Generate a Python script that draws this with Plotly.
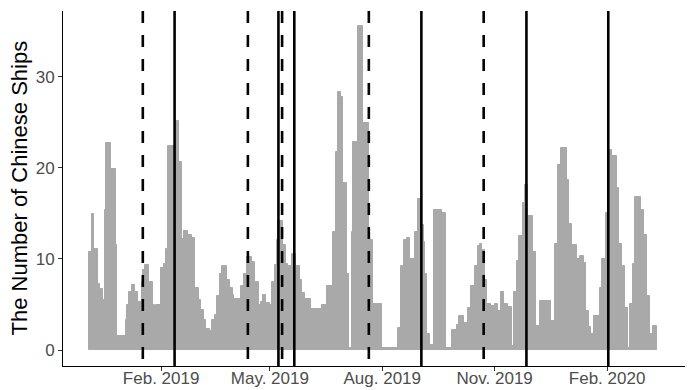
import plotly.graph_objects as go
import pandas as pd

# ---- data ----
base_date = "2018-12-04"
run_start_day = [0, 2, 4, 7, 9, 11, 13, 14, 18, 22,
                 23, 30, 31, 33, 35, 38, 40, 43, 44, 46,
                 49, 52, 54, 55, 59, 61, 63, 65, 70, 74,
                 76, 78, 81, 84, 87, 90, 92, 94, 96, 99,
                 101, 103, 105, 107, 109, 113, 115, 118, 119, 124,
                 127, 129, 133, 136, 139, 141, 142, 145, 148, 150,
                 152, 154, 155, 159, 161, 163, 166, 169, 173, 174,
                 177, 182, 191, 195, 200, 202, 204, 206, 208, 211,
                 213, 215, 216, 220, 224, 229, 232, 240, 253, 255,
                 258, 260, 263, 267, 269, 272, 274, 275, 277, 279,
                 282, 289, 292, 297, 301, 303, 307, 310, 313, 316,
                 318, 320, 322, 324, 326, 329, 332, 335, 337, 340,
                 343, 346, 348, 350, 352, 355, 357, 359, 363, 366,
                 369, 378, 381, 384, 386, 391, 393, 395, 399, 402,
                 405, 407, 409, 411, 413, 418, 420, 423, 425, 428,
                 432, 434, 436, 439, 441, 443, 445, 447, 452, 454,
                 457, 459, 462]
run_end_day = 465
run_values = [10.8, 14.9, 11.1, 7.25, 6.7, 5.5, 15.4, 22.8, 19.9, 11.5,
              1.5, 3.3, 4.9, 6.4, 7.1, 6.4, 5.3, 7.5, 8.8, 9.3,
              7.5, 4.9, 0.2, 4.9, 9.0, 9.5, 11.1, 22.4, 25.2, 20.7,
              12.2, 13.1, 12.6, 12.3, 6.8, 5.5, 4.4, 3.3, 2.3, 2.1,
              3.3, 3.8, 5.9, 8.4, 9.2, 7.7, 6.8, 6.0, 5.6, 7.0,
              8.4, 10.2, 9.7, 7.5, 4.9, 5.3, 6.0, 5.2, 5.0, 7.5,
              9.3, 12.1, 14.2, 11.5, 9.5, 9.2, 10.6, 9.2, 7.7, 6.3,
              5.6, 4.5, 5.0, 7.0, 13.0, 21.8, 28.3, 27.8, 18.3, 8.4,
              0.2, 13.0, 22.9, 35.6, 24.9, 12.1, 5.1, 0.2, 2.4, 9.2,
              12.1, 12.3, 10.0, 13.0, 16.6, 13.7, 11.9, 8.4, 1.8, 0.5,
              15.4, 15.0, 0.2, 2.2, 2.7, 3.7, 3.0, 4.6, 7.0, 9.2,
              11.4, 11.6, 11.0, 7.7, 5.1, 4.8, 5.1, 4.3, 6.4, 5.1,
              4.7, 0.4, 6.4, 9.8, 12.5, 16.1, 18.1, 14.7, 10.8, 2.6,
              5.4, 3.2, 11.6, 20.3, 22.2, 18.7, 13.9, 11.5, 10.0, 10.3,
              9.6, 4.3, 2.5, 1.8, 3.7, 6.8, 10.0, 15.0, 22.0, 21.3,
              17.8, 11.6, 9.2, 4.6, 0.2, 5.1, 9.5, 16.8, 15.4, 12.6,
              5.9, 1.8, 2.6]

dashed_dates = ["2019-01-17", "2019-04-13", "2019-05-11", "2019-07-21", "2019-10-23"]
solid_dates = ["2019-02-12", "2019-05-08", "2019-05-21", "2019-09-02", "2019-11-27", "2020-02-02"]

tick_dates = ["2019-02-01", "2019-05-01", "2019-08-01", "2019-11-01", "2020-02-01"]
tick_labels = ["Feb. 2019", "May. 2019", "Aug. 2019", "Nov. 2019", "Feb. 2020"]
y_ticks = [0, 10, 20, 30]
y_title = "The Number of Chinese Ships"

# ---- build ----
base = pd.Timestamp(base_date)
starts = [(base + pd.Timedelta(days=d)).strftime("%Y-%m-%d") for d in run_start_day]
ends = run_start_day[1:] + [run_end_day]
widths = [(e - s) * 86400000 for s, e in zip(run_start_day, ends)]

BAR = "#A9A9A9"
fig = go.Figure(go.Bar(
    x=starts, y=run_values, width=widths, offset=0,
    marker=dict(color=BAR, line=dict(color=BAR, width=1.0)),
    hoverinfo="skip",
))

shapes = []
for d in dashed_dates:
    shapes.append(dict(type="line", xref="x", yref="paper", x0=d, x1=d, y0=1, y1=0,
                       line=dict(color="black", width=2.6, dash="12px,12px")))
for d in solid_dates:
    shapes.append(dict(type="line", xref="x", yref="paper", x0=d, x1=d, y0=1, y1=0,
                       line=dict(color="black", width=2.6)))

FONT = "Liberation Sans, Arial, sans-serif"
fig.update_layout(
    width=691, height=390,
    margin=dict(l=63, r=6, t=11, b=24, autoexpand=False),
    paper_bgcolor="white", plot_bgcolor="white",
    showlegend=False,
    bargap=0,
    shapes=shapes,
    font=dict(family=FONT),
    annotations=[dict(
        text=y_title, textangle=-90, xref="paper", yref="paper",
        x=-44 / 622, y=0.5, xanchor="center", yanchor="middle",
        showarrow=False, font=dict(size=22, color="black", family=FONT),
    )],
)
fig.update_xaxes(
    type="date", automargin=False,
    range=["2018-11-12 16:00", "2020-04-04 19:00"],
    tickvals=tick_dates, ticktext=tick_labels,
    showgrid=False, zeroline=False,
    showline=True, linecolor="black", linewidth=1,
    ticks="outside", ticklen=4, tickwidth=1, tickcolor="#333333",
    ticklabelstandoff=-7,
    tickfont=dict(size=17, color="#4D4D4D", family=FONT),
)
fig.update_yaxes(
    automargin=False,
    range=[-1.758, 37.25],
    tickvals=y_ticks,
    showgrid=False, zeroline=False,
    showline=True, linecolor="black", linewidth=1,
    ticks="outside", ticklen=4, tickwidth=1, tickcolor="#333333",
    tickfont=dict(size=17, color="#4D4D4D", family=FONT),
)

fig.write_html("out.html")
